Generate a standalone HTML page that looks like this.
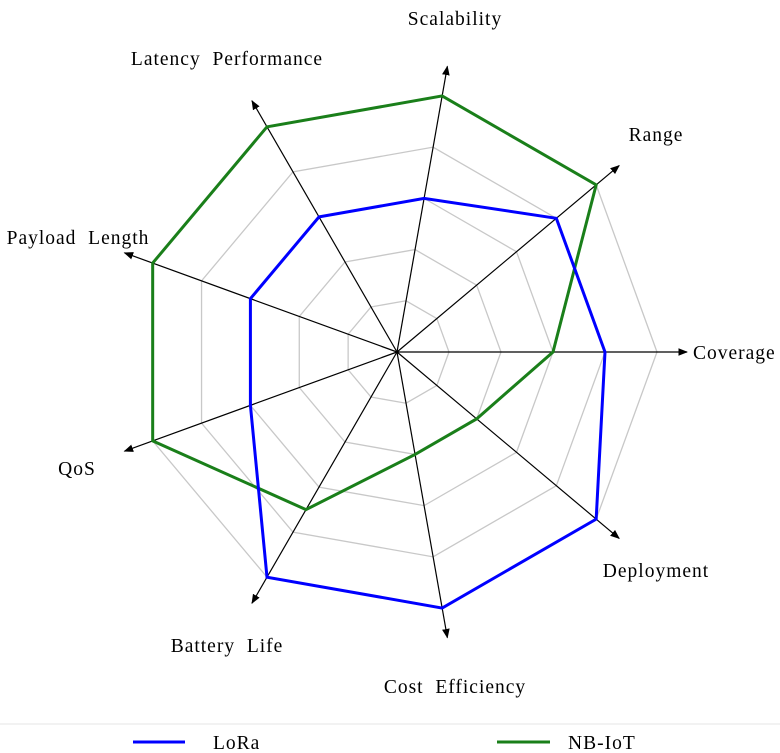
<!DOCTYPE html>
<html><head><meta charset="utf-8"><style>
html,body{margin:0;padding:0;background:#fff;}
svg{display:block;font-family:"Liberation Serif",serif;}
</style></head><body>
<svg id="chart" width="780" height="753" viewBox="0 0 780 753">
<defs><marker id="arr" viewBox="0 0 10 10" refX="9" refY="5" markerWidth="8" markerHeight="8" orient="auto"><path d="M0,1 L10,5 L0,9 z" fill="#000"/></marker></defs>
<g id="grid"></g>
<g id="axes"></g>
<g id="series"></g>
<g id="labels"></g>
<line x1="0" y1="724" x2="780" y2="724" stroke="#e6e6e6"/>
<g>
<line x1="133" y1="742" x2="185" y2="742" stroke="#0000ff" stroke-width="3"/>
<text x="213" y="749" font-size="19.5" letter-spacing="1">LoRa</text></g>
<g>
<line x1="497" y1="742" x2="550" y2="742" stroke="#1a7f1a" stroke-width="3"/>
<text x="568" y="749" font-size="19.5" letter-spacing="1">NB-IoT</text></g>
</svg>
<script>
const categories=["Coverage","Range","Scalability","Latency  Performance","Payload  Length","QoS","Battery  Life","Cost  Efficiency","Deployment"];
const loraValues=[4,4,3,3,3,3,5,5,5];
const nbiotValues=[3,5,5,5,5,5,3.5,2,2];
const maxValue=5;
const ringLevels=[1,2,3,4,5];
const cx=397,cy=352,R=260,axisLen=290;
const labelPos=[[693,359,"start"],[656,141,"middle"],[455,25,"middle"],[227,65,"middle"],[78,244,"middle"],[77,475,"middle"],[227,652,"middle"],[455,693,"middle"],[656,577,"middle"]];
const NS="http://www.w3.org/2000/svg";
function ang(i){return i*2*Math.PI/categories.length;}
function pt(i,v){const r=v/maxValue*R;return [cx+r*Math.cos(ang(i)),cy-r*Math.sin(ang(i))];}
function mk(tag,attrs,parent){const e=document.createElementNS(NS,tag);for(const k in attrs)e.setAttribute(k,attrs[k]);parent.appendChild(e);return e;}
const g=document.getElementById('grid');
ringLevels.forEach(l=>{
 const p=mk('polygon',{points:categories.map((c,i)=>pt(i,l).join(',')).join(' '),fill:'none',stroke:'#c8c8c8','stroke-width':1.3},g);
 
 
});
const ax=document.getElementById('axes');
categories.forEach((c,i)=>{
 const ex=cx+axisLen*Math.cos(ang(i)),ey=cy-axisLen*Math.sin(ang(i));
 const l=mk('line',{x1:cx,y1:cy,x2:ex,y2:ey,stroke:'#000','stroke-width':1.2,'marker-end':'url(#arr)'},ax);
 
 
});
const s=document.getElementById('series');
function poly(vals,col,name){
 const p=mk('polygon',{points:vals.map((v,i)=>pt(i,v).join(',')).join(' '),fill:'none',stroke:col,'stroke-width':3},s);
 
 
}
poly(nbiotValues,'#1a7f1a','series-nbiot');
poly(loraValues,'#0000ff','series-lora');
const lb=document.getElementById('labels');
categories.forEach((c,i)=>{
 const t=mk('text',{x:labelPos[i][0],y:labelPos[i][1],'text-anchor':labelPos[i][2],'font-size':19.5,'letter-spacing':1},lb);
 t.style.whiteSpace='pre';
 t.textContent=c;
 
 
});
</script>
</body></html>
